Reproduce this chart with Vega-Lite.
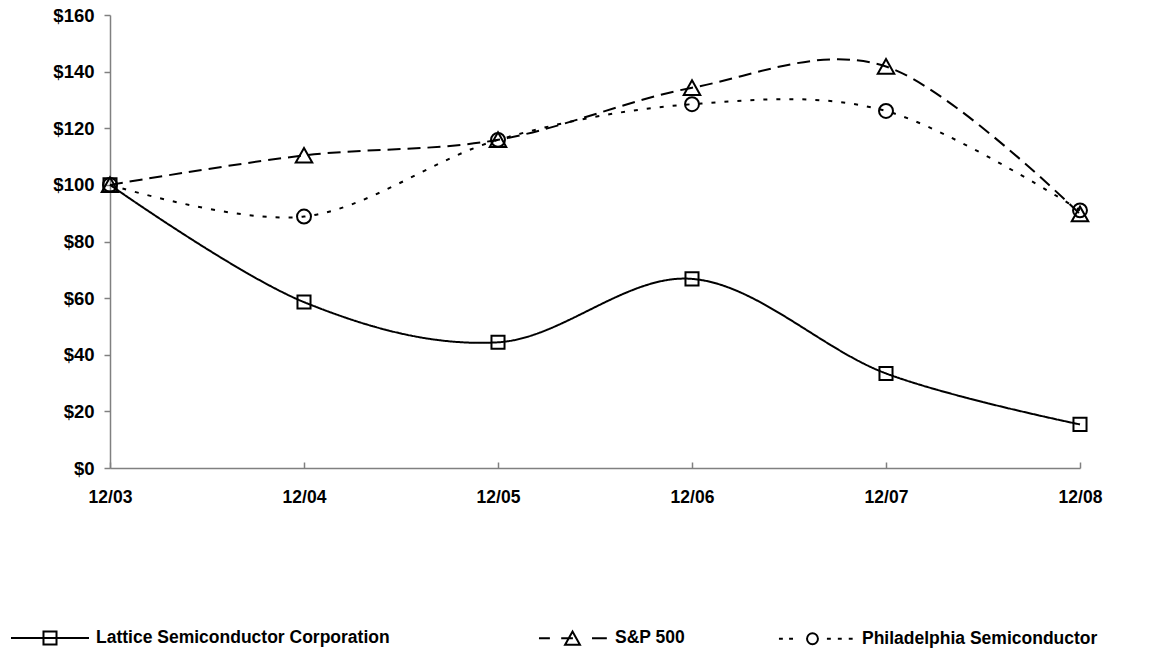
{
  "$schema": "https://vega.github.io/schema/vega-lite/v6.json",
  "width": 970,
  "height": 453,
  "autosize": {"type": "none"},
  "padding": {"left": 110, "top": 15, "right": 96, "bottom": 187},
  "background": "white",
  "config": {"view": {"stroke": null}, "font": "Liberation Sans"},
  "data": {
    "values": [
      {"period": "12/03", "series": "Lattice Semiconductor Corporation", "value": 100},
      {"period": "12/04", "series": "Lattice Semiconductor Corporation", "value": 58.6},
      {"period": "12/05", "series": "Lattice Semiconductor Corporation", "value": 44.4},
      {"period": "12/06", "series": "Lattice Semiconductor Corporation", "value": 66.8},
      {"period": "12/07", "series": "Lattice Semiconductor Corporation", "value": 33.4},
      {"period": "12/08", "series": "Lattice Semiconductor Corporation", "value": 15.4},
      {"period": "12/03", "series": "S&P 500", "value": 100},
      {"period": "12/04", "series": "S&P 500", "value": 110.4},
      {"period": "12/05", "series": "S&P 500", "value": 115.9},
      {"period": "12/06", "series": "S&P 500", "value": 134.3},
      {"period": "12/07", "series": "S&P 500", "value": 141.8},
      {"period": "12/08", "series": "S&P 500", "value": 89.7},
      {"period": "12/03", "series": "Philadelphia Semiconductor", "value": 100},
      {"period": "12/04", "series": "Philadelphia Semiconductor", "value": 88.8},
      {"period": "12/05", "series": "Philadelphia Semiconductor", "value": 115.9},
      {"period": "12/06", "series": "Philadelphia Semiconductor", "value": 128.5},
      {"period": "12/07", "series": "Philadelphia Semiconductor", "value": 126.1},
      {"period": "12/08", "series": "Philadelphia Semiconductor", "value": 91}
    ]
  },
  "encoding": {
    "x": {
      "field": "period",
      "type": "nominal",
      "scale": {"type": "point", "padding": 0},
      "axis": {
        "title": null,
        "labelAngle": 0,
        "labelFontSize": 17.5,
        "labelFontWeight": "bold",
        "labelColor": "black",
        "domainColor": "#808080",
        "domainWidth": 1.5,
        "tickColor": "#808080",
        "tickWidth": 1.5,
        "tickSize": -6,
        "labelPadding": 26
      }
    },
    "y": {
      "field": "value",
      "type": "quantitative",
      "scale": {"domain": [0, 160], "nice": false},
      "axis": {
        "title": null,
        "values": [0, 20, 40, 60, 80, 100, 120, 140, 160],
        "format": "$.0f",
        "grid": false,
        "labelFontSize": 18.5,
        "labelFontWeight": "bold",
        "labelColor": "black",
        "domainColor": "#808080",
        "domainWidth": 1.5,
        "tickColor": "#808080",
        "tickWidth": 1.5,
        "tickSize": 6,
        "labelPadding": 10
      }
    }
  },
  "layer": [
    {
      "mark": {"type": "line", "interpolate": "cardinal", "strokeWidth": 2},
      "encoding": {
        "strokeDash": {
          "field": "series",
          "type": "nominal",
          "scale": {
            "domain": ["Lattice Semiconductor Corporation", "S&P 500", "Philadelphia Semiconductor"],
            "range": [[1, 0], [13, 7], [4, 9]]
          },
          "legend": {
            "values": ["Lattice Semiconductor Corporation"],
            "orient": "none",
            "legendX": -100,
            "legendY": 583,
            "direction": "horizontal",
            "title": null,
            "padding": 0,
            "symbolSize": 6084,
            "symbolStrokeWidth": 2,
            "symbolStrokeColor": "black",
            "symbolFillColor": "transparent",
            "labelFontSize": 17.5,
            "labelFontWeight": "bold",
            "labelColor": "black",
            "labelOffset": 6,
            "labelLimit": 700,
            "encode": {
              "symbols": {
                "update": {
                  "shape": {"value": "M-1,0H1M-0.167,-0.167H0.167V0.167H-0.167Z"},
                  "stroke": {"value": "black"},
                  "fill": {"value": "transparent"},
                  "strokeWidth": {"value": 2}
                }
              }
            }
          }
        },
        "color": {
          "field": "series",
          "type": "nominal",
          "scale": {
            "domain": ["S&P 500", "Philadelphia Semiconductor", "Lattice Semiconductor Corporation"],
            "range": ["black", "black", "black"]
          },
          "legend": {
            "values": ["S&P 500", "Philadelphia Semiconductor"],
            "orient": "none",
            "legendX": 419,
            "legendY": 583,
            "direction": "horizontal",
            "title": null,
            "padding": 0,
            "symbolSize": 6084,
            "symbolStrokeWidth": 2,
            "symbolStrokeColor": "black",
            "symbolFillColor": "transparent",
            "labelFontSize": 17.5,
            "labelFontWeight": "bold",
            "labelColor": "black",
            "labelOffset": 6,
            "labelLimit": 700,
            "columnPadding": 88,
            "encode": {
              "symbols": {
                "update": {
                  "shape": {"signal": "datum.value == 'S&P 500' ? 'M-0.77,0H-0.49M-0.2,0H0.1M0.09,-0.17L0.28,0.17H-0.1ZM0.59,0H0.97' : 'M-0.95,0H-0.85M-0.69,0H-0.59M0.05,0A0.14,0.14 0 1,1 -0.23,0A0.14,0.14 0 1,1 0.05,0M0.28,0H0.38M0.56,0H0.66M0.84,0H0.94'"},
                  "stroke": {"value": "black"},
                  "fill": {"value": "transparent"},
                  "strokeWidth": {"value": 2}
                }
              }
            }
          }
        }
      }
    },
    {
      "transform": [{"filter": "datum.series == 'Lattice Semiconductor Corporation'"}],
      "mark": {"type": "point", "filled": false, "color": "black", "strokeWidth": 2, "size": 225, "opacity": 1, "shape": "M-0.87,-0.87H0.87V0.87H-0.87Z"}
    },
    {
      "transform": [{"filter": "datum.series == 'S&P 500'"}],
      "mark": {"type": "point", "filled": false, "color": "black", "strokeWidth": 2, "size": 225, "opacity": 1, "shape": "M0,-1L1.1,0.95H-1.1Z"}
    },
    {
      "transform": [{"filter": "datum.series == 'Philadelphia Semiconductor'"}],
      "mark": {"type": "point", "filled": false, "color": "black", "strokeWidth": 2, "size": 225, "opacity": 1, "shape": "M0.93,0A0.93,0.93 0 1,1 -0.93,0A0.93,0.93 0 1,1 0.93,0"}
    }
  ]
}
